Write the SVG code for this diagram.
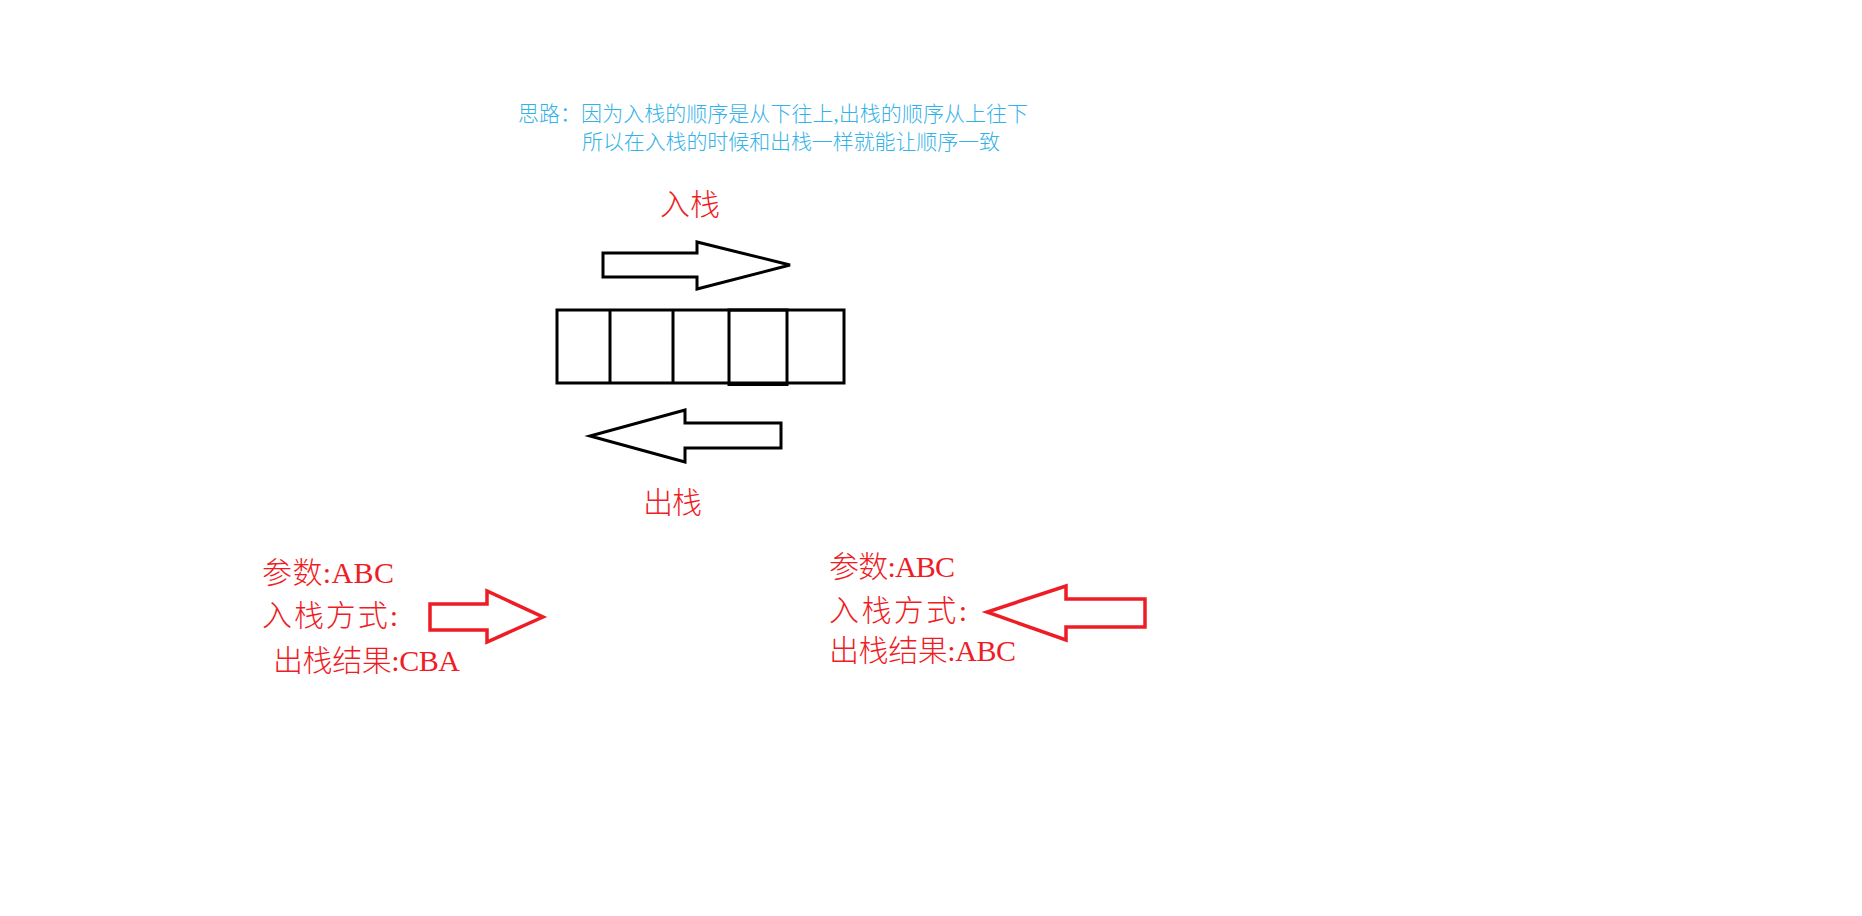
<svg xmlns="http://www.w3.org/2000/svg" width="1862" height="916" viewBox="0 0 1862 916">
<style>
.blue{font-family:"Liberation Serif","Noto Sans CJK SC",serif;font-size:21px;font-weight:300;fill:#33b2e8}
.red{font-family:"Liberation Serif","Noto Sans CJK SC",serif;font-size:30px;font-weight:300;fill:#ee1c24}
.blk{fill:none;stroke:#000;stroke-width:3;stroke-linejoin:miter}
.rarrow{fill:none;stroke:#ee1c24;stroke-width:3.5;stroke-linejoin:miter}
</style>
<rect width="1862" height="916" fill="#fff"/>
<g id="note">
<text class="blue" x="518" y="120.5" textLength="510" lengthAdjust="spacing">思路：因为入栈的顺序是从下往上,出栈的顺序从上往下</text>
<text class="blue" x="582" y="148.5" textLength="418" lengthAdjust="spacing">所以在入栈的时候和出栈一样就能让顺序一致</text>
</g>
<g id="push-label"><text class="red" x="660" y="214.5" textLength="60" lengthAdjust="spacing">入栈</text></g>
<g id="push-arrow"><polygon class="blk" points="603,253 697,253 697,242 790,265 697,289 697,277 603,277"/></g>
<g id="stack">
<rect class="blk" x="557" y="310" width="287" height="73"/>
<line class="blk" x1="610" y1="310" x2="610" y2="383"/>
<line class="blk" x1="673" y1="310" x2="673" y2="383"/>
<rect class="blk" x="729" y="310" width="58" height="74.5"/>
</g>
<g id="pop-arrow"><polygon class="blk" points="781,423 685,423 685,410 590,436 685,462 685,448 781,448"/></g>
<g id="pop-label"><text class="red" x="643" y="513" textLength="59" lengthAdjust="spacing">出栈</text></g>
<g id="left-case">
<text class="red" x="262" y="583" textLength="132" lengthAdjust="spacing">参数:ABC</text>
<text class="red" x="262" y="626" textLength="136" lengthAdjust="spacing">入栈方式:</text>
<text class="red" x="273" y="671" textLength="187" lengthAdjust="spacing">出栈结果:CBA</text>
</g>
<g id="left-arrow"><polygon class="rarrow" points="430,604 487,604 487,591 543,617 487,642 487,630 430,630"/></g>
<g id="right-case">
<text class="red" x="829" y="577" textLength="126" lengthAdjust="spacing">参数:ABC</text>
<text class="red" x="829" y="621" textLength="138" lengthAdjust="spacing">入栈方式:</text>
<text class="red" x="829" y="661" textLength="187" lengthAdjust="spacing">出栈结果:ABC</text>
</g>
<g id="right-arrow"><polygon class="rarrow" points="1145,599 1066,599 1066,586 987,612 1066,640 1066,627 1145,627"/></g>
</svg>
